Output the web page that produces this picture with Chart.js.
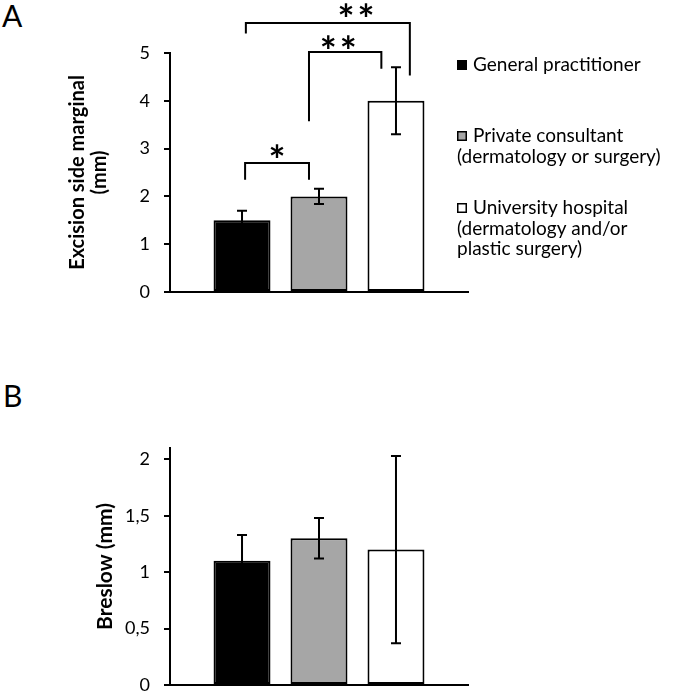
<!DOCTYPE html>
<html>
<head>
<meta charset="utf-8">
<script src="https://cdn.jsdelivr.net/npm/chart.js@4.4.1/dist/chart.umd.min.js"></script>
<style>
  html, body { margin: 0; padding: 0; background: #fff; }
  body { width: 686px; height: 695px; position: relative; overflow: hidden; font-family: Lato, sans-serif; }
  .letter { position: absolute; font-size: 30px; line-height: 30px; color: #000; }
  .panel { position: absolute; left: 0; width: 686px; }
</style>
</head>
<body>
<div class="letter" style="left:2px; top:0px">A</div>
<div class="letter" style="left:3px; top:380px">B</div>
<div class="panel" style="top:0; height:330px"><canvas id="chartA"></canvas></div>
<div class="panel" style="top:330px; height:380px"><canvas id="chartB"></canvas></div>
<script>
// groups (one bar each)
const groups = ['General practitioner', 'Private consultant (dermatology or surgery)', 'University hospital (dermatology and/or plastic surgery)'];
const legendLines = [
  ['General practitioner'],
  ['Private consultant', '(dermatology or surgery)'],
  ['University hospital', '(dermatology and/or', 'plastic surgery)']
];
const barColors = ['#000000', '#a6a6a6', '#ffffff'];

// panel A - excision side marginal (mm)
const marginMeans = [1.5, 2.0, 4.0];
const marginErrors = [0.2, 0.16, 0.7];
const marginTicks = [0, 1, 2, 3, 4, 5];
const marginTickLabels = ['0', '1', '2', '3', '4', '5'];

// panel B - breslow (mm)
const breslowMeans = [1.1, 1.3, 1.2];
const breslowErrors = [0.23, 0.18, 0.83];
const breslowTicks = [0, 0.5, 1, 1.5, 2];
const breslowTickLabels = ['0', '0,5', '1', '1,5', '2'];

// significance brackets in panel A (x in bar steps from first bar, y in mm)
const bracketStart = [0.04, 0.87, 0.05];
const bracketEnd = [0.87, 1.81, 2.18];
const bracketTop = [2.70, 5.02, 5.63];
const bracketStartLeg = [2.35, 3.57, 5.41];
const bracketEndLeg = [2.35, 4.67, 4.53];
const starText = ['*', '**', '**'];
const starAt = [0.455, 1.25, 1.48];
const starLevel = [2.94, 5.24, 5.89];

function barDatasets(values) {
  return values.map((v, i) => ({
    label: groups[i],
    data: [v],
    backgroundColor: barColors[i],
    borderColor: '#000',
    borderWidth: 2,
    borderSkipped: false,
    categoryPercentage: 0.775,
    barPercentage: 0.74
  }));
}

function errorBars(errors) {
  return {
    id: 'errorBars',
    afterDatasetsDraw(chart) {
      const ctx = chart.ctx;
      const y = chart.scales.y;
      ctx.save();
      ctx.strokeStyle = '#000';
      ctx.lineWidth = 2;
      chart.data.datasets.forEach((ds, i) => {
        const bar = chart.getDatasetMeta(i).data[0];
        const v = ds.data[0];
        const hi = y.getPixelForValue(v + errors[i]);
        const lo = y.getPixelForValue(v - errors[i]);
        ctx.beginPath();
        ctx.moveTo(bar.x, hi); ctx.lineTo(bar.x, lo);
        ctx.moveTo(bar.x - 5, hi); ctx.lineTo(bar.x + 5, hi);
        ctx.moveTo(bar.x - 5, lo); ctx.lineTo(bar.x + 5, lo);
        ctx.stroke();
      });
      ctx.restore();
    }
  };
}

const brackets = {
  id: 'brackets',
  afterDraw(chart) {
    const ctx = chart.ctx;
    const y = chart.scales.y;
    const x0 = chart.getDatasetMeta(0).data[0].x;
    const step = chart.getDatasetMeta(1).data[0].x - x0;
    const px = p => x0 + p * step;
    ctx.save();
    ctx.strokeStyle = '#000';
    ctx.lineWidth = 2;
    bracketStart.forEach((s, i) => {
      ctx.beginPath();
      ctx.moveTo(px(s), y.getPixelForValue(bracketStartLeg[i]));
      ctx.lineTo(px(s), y.getPixelForValue(bracketTop[i]));
      ctx.lineTo(px(bracketEnd[i]), y.getPixelForValue(bracketTop[i]));
      ctx.lineTo(px(bracketEnd[i]), y.getPixelForValue(bracketEndLeg[i]));
      ctx.stroke();
    });
    ctx.fillStyle = '#000';
    ctx.font = 'bold 40px Lato';
    ctx.textAlign = 'center';
    ctx.textBaseline = 'alphabetic';
    starText.forEach((t, i) => {
      const chars = t.split('');
      const cy = y.getPixelForValue(starLevel[i]);
      chars.forEach((c, k) => {
        const m = ctx.measureText(c);
        const cx = px(starAt[i]) + (k - (chars.length - 1) / 2) * 20;
        ctx.fillText(c, cx, cy + (m.actualBoundingBoxAscent - m.actualBoundingBoxDescent) / 2);
      });
    });
    ctx.restore();
  }
};

const sideLegend = {
  id: 'sideLegend',
  afterDraw(chart) {
    const ctx = chart.ctx;
    const firstLine = [65, 136, 208];
    ctx.save();
    ctx.font = '19px Lato';
    ctx.textBaseline = 'middle';
    ctx.textAlign = 'left';
    chart.data.datasets.forEach((ds, i) => {
      const yy = firstLine[i];
      ctx.fillStyle = ds.backgroundColor;
      ctx.fillRect(457, yy - 5, 10, 10);
      ctx.strokeStyle = '#000';
      ctx.lineWidth = 1.5;
      ctx.strokeRect(457.75, yy - 4.25, 8.5, 8.5);
      ctx.fillStyle = '#000';
      legendLines[i].forEach((line, k) => {
        ctx.fillText(line, k === 0 ? 473 : 457, yy + k * 20.5);
      });
    });
    ctx.restore();
  }
};

function yAxis(max, ticks, labels, title, titleSize, titlePad) {
  return {
    min: 0,
    max: max,
    afterBuildTicks: s => { s.ticks = ticks.map(v => ({ value: v })); },
    afterFit: s => { s.width = 170; },
    ticks: {
      color: '#000',
      font: { size: 18 },
      padding: 14,
      callback: (v, i) => labels[i]
    },
    grid: { drawOnChartArea: false, drawTicks: true, tickLength: 6, color: '#000', lineWidth: 2 },
    border: { display: true, color: '#000', width: 2 },
    title: {
      display: true,
      text: title,
      color: '#000',
      font: { size: titleSize, weight: 'bold', lineHeight: 1.1 },
      padding: { top: titlePad, bottom: 0 }
    }
  };
}

const xAxis = {
  grid: { display: false, drawTicks: false },
  ticks: { display: false },
  border: { display: true, color: '#000', width: 2 }
};

function makeChart(id, means, errors, yOpts, padding, extra) {
  return new Chart(document.getElementById(id), {
    type: 'bar',
    data: { labels: [''], datasets: barDatasets(means) },
    options: {
      responsive: true,
      maintainAspectRatio: false,
      animation: false,
      layout: { padding: padding },
      plugins: { legend: { display: false }, tooltip: { enabled: false } },
      scales: { x: xAxis, y: yOpts }
    },
    plugins: [errorBars(errors)].concat(extra)
  });
}

function draw() {
  Chart.defaults.font.family = 'Lato, sans-serif';
  makeChart('chartA', marginMeans, marginErrors,
    yAxis(5, marginTicks, marginTickLabels, ['Excision side marginal', '(mm)'], 20, 67),
    { top: 53, bottom: 38, left: 0, right: 218 }, [brackets, sideLegend]);
  makeChart('chartB', breslowMeans, breslowErrors,
    yAxis(2.1, breslowTicks, breslowTickLabels, 'Breslow (mm)', 21, 94),
    { top: 118, bottom: 25, left: 0, right: 218 }, []);
}

Promise.all([document.fonts.load('18px Lato'), document.fonts.load('bold 20px Lato')])
  .then(draw, draw);
</script>
</body>
</html>
